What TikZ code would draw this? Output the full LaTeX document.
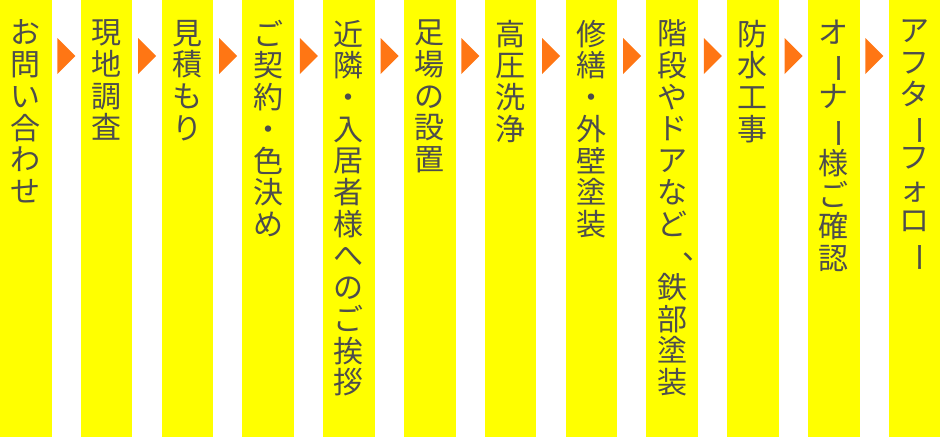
\documentclass[tikz,border=0pt]{standalone}
\usepackage{fontspec}
\setmainfont{Noto Sans CJK JP}
\usepackage{graphicx}
\usetikzlibrary{shapes.geometric}

\definecolor{stepyellow}{RGB}{255,255,0}
\definecolor{steporange}{RGB}{255,118,20}
\definecolor{stepgray}{RGB}{77,77,77}

% vertical long vowel mark and comma for tategaki
\newcommand{\tatebo}{\rotatebox[origin=c]{-90}{ー}}
\newcommand{\tateten}{\makebox[1em][l]{\hspace{0.85em}\raisebox{0.25em}{、}}}

\tikzstyle{col} = [rectangle, fill=stepyellow, draw=none, minimum width=51.5pt, minimum height=437pt, inner sep=0pt]
\tikzstyle{tate} = [anchor=north, yshift=-20pt, inner sep=0pt, align=center, text=stepgray, font=\fontsize{30}{31.7}\selectfont]
\tikzstyle{tri} = [isosceles triangle, isosceles triangle stretches, fill=steporange, draw=none, inner sep=0pt, minimum width=36pt, minimum height=18pt, anchor=west, xshift=5.5pt, yshift=162.5pt]

\begin{document}
\begin{tikzpicture}[node distance=80.8pt]
\useasboundingbox (0,0) rectangle (940pt,-437pt);

\node[col] (c1) at (25.75pt,-218.5pt) {};
\node[col] (c2) [right of=c1] {};
\node[col] (c3) [right of=c2] {};
\node[col] (c4) [right of=c3] {};
\node[col] (c5) [right of=c4] {};
\node[col] (c6) [right of=c5] {};
\node[col] (c7) [right of=c6] {};
\node[col] (c8) [right of=c7] {};
\node[col] (c9) [right of=c8] {};
\node[col] (c10) [right of=c9] {};
\node[col] (c11) [right of=c10] {};
\node[col] (c12) [right of=c11] {};

\node[tate] (t1) at (c1.north) {お\\問\\い\\合\\わ\\せ};
\node[tate] (t2) at (c2.north) {現\\地\\調\\査};
\node[tate] (t3) at (c3.north) {見\\積\\も\\り};
\node[tate] (t4) at (c4.north) {ご\\契\\約\\・\\色\\決\\め};
\node[tate] (t5) at (c5.north) {近\\隣\\・\\入\\居\\者\\様\\へ\\の\\ご\\挨\\拶};
\node[tate] (t6) at (c6.north) {足\\場\\の\\設\\置};
\node[tate] (t7) at (c7.north) {高\\圧\\洗\\浄};
\node[tate] (t8) at (c8.north) {修\\繕\\・\\外\\壁\\塗\\装};
\node[tate] (t9) at (c9.north) {階\\段\\や\\ド\\ア\\な\\ど\\\tateten\\鉄\\部\\塗\\装};
\node[tate] (t10) at (c10.north) {防\\水\\工\\事};
\node[tate] (t11) at (c11.north) {オ\\\tatebo\\ナ\\\tatebo\\様\\ご\\確\\認};
\node[tate] (t12) at (c12.north) {ア\\フ\\タ\\\tatebo\\フ\\ォ\\ロ\\\tatebo};

% arrows between the steps
\node[tri] (a1) at (c1.east) {};
\node[tri] (a2) at (c2.east) {};
\node[tri] (a3) at (c3.east) {};
\node[tri] (a4) at (c4.east) {};
\node[tri] (a5) at (c5.east) {};
\node[tri] (a6) at (c6.east) {};
\node[tri] (a7) at (c7.east) {};
\node[tri] (a8) at (c8.east) {};
\node[tri] (a9) at (c9.east) {};
\node[tri] (a10) at (c10.east) {};
\node[tri] (a11) at (c11.east) {};
\end{tikzpicture}
\end{document}
